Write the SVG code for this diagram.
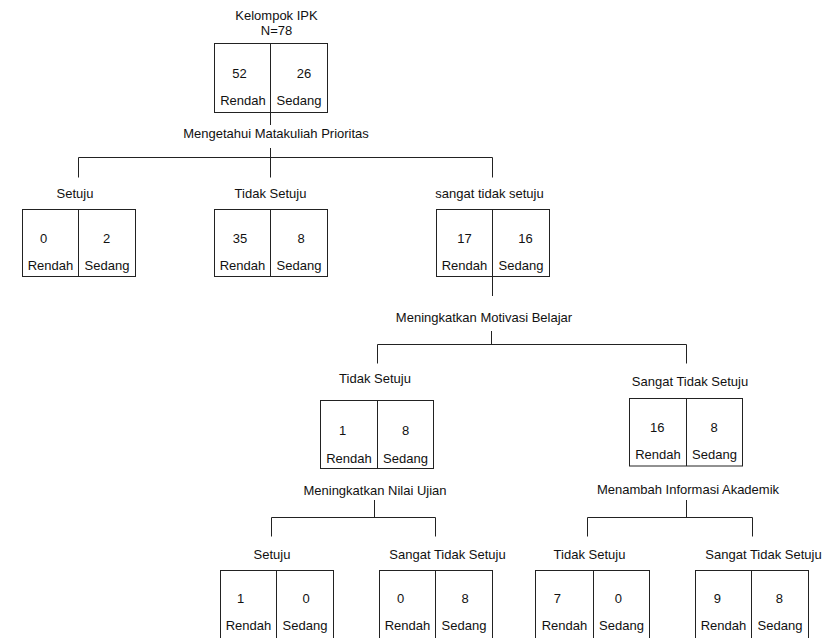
<svg xmlns="http://www.w3.org/2000/svg" width="840" height="638" viewBox="0 0 840 638">
<style>
text{font-family:"Liberation Sans",Arial,sans-serif;font-size:13px;fill:#111;text-anchor:middle}
.box{fill:#fff;stroke:#222;stroke-width:1}
.ln{fill:none;stroke:#222;stroke-width:1}
</style>
<rect width="840" height="638" fill="#fff"/>
<g id="connectors" class="ln">
<path d="M270.5 112v13M270.5 148v9.5M78.5 157.5h414M78.5 157.5v20M270.5 157.5v20M492.5 157.5v20"/>
<path d="M492.5 277v19M491.5 331v13.5M377.5 344.5h309M377.5 344.5v19M686.5 344.5v19"/>
<path d="M374.5 500v17.5M271.5 517.5h164M271.5 517.5v19M435.5 517.5v19"/>
<path d="M686.5 500v17.5M587.5 517.5h165M587.5 517.5v19M752.5 517.5v19"/>
</g>
<g id="root">
<text x="276.5" y="20">Kelompok IPK</text>
<text x="276.5" y="34.6">N=78</text>
<rect class="box" x="214.5" y="43.5" width="113" height="69"/>
<path class="ln" d="M270.5 43.5v69"/>
<text x="239.5" y="78">52</text><text x="304" y="78">26</text>
<text x="243" y="105">Rendah</text><text x="299" y="105">Sedang</text>
<text x="276" y="138">Mengetahui Matakuliah Prioritas</text>
</g>
<g id="n1-setuju">
<text x="75" y="198">Setuju</text>
<rect class="box" x="22.5" y="209.5" width="113" height="67"/>
<path class="ln" d="M78.5 209.5v67"/>
<text x="43.5" y="243">0</text><text x="106.5" y="243">2</text>
<text x="50.5" y="270">Rendah</text><text x="107" y="270">Sedang</text>
</g>
<g id="n1-tidak">
<text x="270.5" y="198">Tidak Setuju</text>
<rect class="box" x="214.5" y="209.5" width="113" height="67"/>
<path class="ln" d="M270.5 209.5v67"/>
<text x="240" y="243">35</text><text x="301" y="243">8</text>
<text x="242.5" y="270">Rendah</text><text x="299" y="270">Sedang</text>
</g>
<g id="n1-sangat">
<text x="489.5" y="198">sangat tidak setuju</text>
<rect class="box" x="436.5" y="209.5" width="113" height="67"/>
<path class="ln" d="M492.5 209.5v67"/>
<text x="464.5" y="243">17</text><text x="525.5" y="243">16</text>
<text x="464.5" y="270">Rendah</text><text x="521" y="270">Sedang</text>
<text x="484" y="322">Meningkatkan Motivasi Belajar</text>
</g>
<g id="n2-tidak">
<text x="375" y="383">Tidak Setuju</text>
<rect class="box" x="320.5" y="400.5" width="113" height="68"/>
<path class="ln" d="M377.5 400.5v68"/>
<text x="342.7" y="435">1</text><text x="405.7" y="435">8</text>
<text x="349" y="462.5">Rendah</text><text x="405.5" y="462.5">Sedang</text>
<text x="375" y="495">Meningkatkan Nilai Ujian</text>
</g>
<g id="n2-sangat">
<text x="690" y="385.5">Sangat Tidak Setuju</text>
<rect class="box" x="629.5" y="398.5" width="113" height="67.5"/>
<path class="ln" d="M686.5 398.5v67.5"/>
<text x="657.3" y="431.7">16</text><text x="714" y="431.7">8</text>
<text x="658" y="459">Rendah</text><text x="714.5" y="459">Sedang</text>
<text x="688" y="494">Menambah Informasi Akademik</text>
</g>
<g id="n3-setuju">
<text x="272" y="559">Setuju</text>
<rect class="box" x="220.5" y="570.5" width="113" height="70"/>
<path class="ln" d="M276.5 570.5v70"/>
<text x="240.7" y="603.3">1</text><text x="306" y="603.3">0</text>
<text x="248.5" y="630">Rendah</text><text x="305" y="630">Sedang</text>
</g>
<g id="n3-sangat-a">
<text x="447.5" y="559">Sangat Tidak Setuju</text>
<rect class="box" x="379.5" y="570.5" width="113" height="70"/>
<path class="ln" d="M435.5 570.5v70"/>
<text x="400.7" y="603.3">0</text><text x="465" y="603.3">8</text>
<text x="407.5" y="630">Rendah</text><text x="464" y="630">Sedang</text>
</g>
<g id="n3-tidak">
<text x="589.5" y="559">Tidak Setuju</text>
<rect class="box" x="535.5" y="570.5" width="114" height="70"/>
<path class="ln" d="M593.5 570.5v70"/>
<text x="557.3" y="603.3">7</text><text x="618.3" y="603.3">0</text>
<text x="564.5" y="630">Rendah</text><text x="621.5" y="630">Sedang</text>
</g>
<g id="n3-sangat-b">
<text x="763.5" y="559">Sangat Tidak Setuju</text>
<rect class="box" x="695.5" y="570.5" width="113" height="70"/>
<path class="ln" d="M751.5 570.5v70"/>
<text x="717.3" y="603.3">9</text><text x="779.3" y="603.3">8</text>
<text x="723.5" y="630">Rendah</text><text x="780" y="630">Sedang</text>
</g>
</svg>
